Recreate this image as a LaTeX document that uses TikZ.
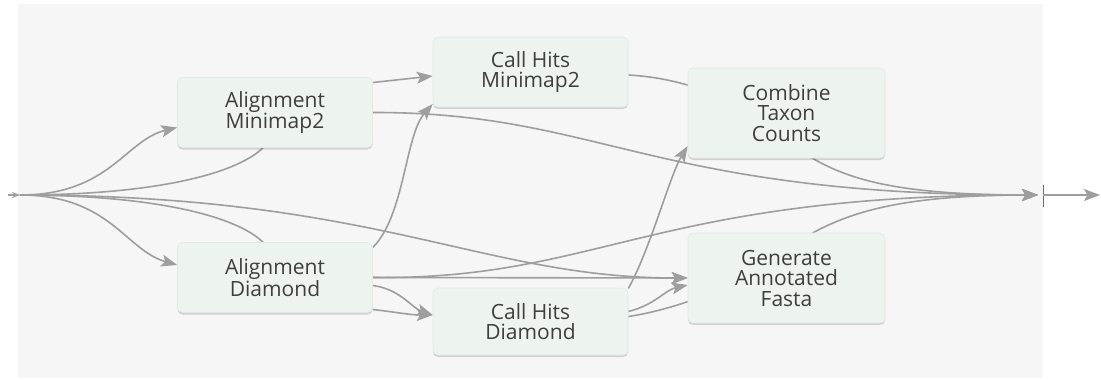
\documentclass[tikz,border=0pt]{standalone}
\usepackage{fontspec}
\setmainfont{Open Sans}
\usetikzlibrary{arrows.meta,shadows,calc}
\definecolor{panel}{HTML}{F6F6F6}
\definecolor{boxfill}{HTML}{EDF4F0}
\definecolor{boxline}{HTML}{E3EAE6}
\definecolor{conncol}{HTML}{9E9E9E}
\definecolor{txt}{HTML}{3E3E3E}
\pgfdeclarelayer{bgpanel}
\pgfdeclarelayer{edges}
\pgfsetlayers{bgpanel,edges,main}
\begin{document}
\begin{tikzpicture}[x=1pt,y=-1pt,
  stepbox/.style={rectangle, rounded corners=5pt, fill=boxfill, draw=boxline,
    line width=0.6pt, align=center, text=txt,
    font=\fontsize{21}{20.5}\selectfont, inner sep=0pt,
    drop shadow={shadow xshift=0pt, shadow yshift=-2pt, opacity=0.15, fill=black}},
  conn/.style={draw=conncol, line width=1.6pt},
  tip/.style={-{Stealth[length=16pt,width=12pt,inset=3.5pt]}}]
\useasboundingbox (0,0) rectangle (1101,380);
\begin{pgfonlayer}{bgpanel}
  \fill[white] (0,0) rectangle (1101,380);
  \fill[panel] (18,4) rectangle (1043,378);
\end{pgfonlayer}

% nodes
\node[stepbox, minimum width=195pt, minimum height=70pt] (am) at (275,112.5) {Alignment\\Minimap2};
\node[stepbox, minimum width=195pt, minimum height=70pt] (ad) at (275,277.5) {Alignment\\Diamond};
\node[stepbox, minimum width=195pt, minimum height=70pt] (chm) at (530.5,72) {Call Hits\\Minimap2};
\node[stepbox, minimum width=195pt, minimum height=67pt] (chd) at (530.5,321.5) {Call Hits\\Diamond};
\node[stepbox, minimum width=197pt, minimum height=90pt] (ctc) at (786.5,113) {Combine\\Taxon\\Counts};
\node[stepbox, minimum width=197pt, minimum height=90pt] (gaf) at (786.5,278) {Generate\\Annotated\\Fasta};

\coordinate (in) at (20,195);
\coordinate (out) at (1038,195);
\coordinate (mark) at (1043,195);
\coordinate (final) at (1100,195);
\coordinate (src) at (8,195);

\begin{pgfonlayer}{edges}
  % input marker
  \draw[conncol, line width=1.2pt, -{Stealth[length=8pt,width=6pt]}] (src) -- (in);
  % from input
  \draw[conn, tip] (in) .. controls (110,195) and (125,140) .. ([yshift=-15pt]am.west);
  \draw[conn, tip] (in) .. controls (110,195) and (125,250) .. ([yshift=12.5pt]ad.west);
  \draw[conn] (in) .. controls (150,195) and (235,175) .. ([xshift=-12pt]am.south);
  \draw[conn] (in) .. controls (150,195) and (235,215) .. ([xshift=-12pt]ad.north);
  \draw[conn, tip] (in) .. controls (380,195) and (480,278) .. (gaf.west);
  % from Alignment Minimap2
  \draw[conn, tip] ([yshift=30pt]am.east) -- ([yshift=-4pt]chm.west);
  \draw[conn, tip] (am.east) .. controls (600,112) and (650,195) .. (out);
  % from Alignment Diamond
  \draw[conn, tip] (ad.east) -- (gaf.west);
  \draw[conn, tip] (ad.east) .. controls (600,280) and (650,195) .. (out);
  \draw[conn, tip] ([yshift=-8pt]ad.east) .. controls (400,289) and (412,308) .. ([yshift=6.5pt]chd.west);
  \draw[conn, tip] ([yshift=-32pt]ad.east) .. controls (395,312) and (410,315) .. ([yshift=6.5pt]chd.west);
  \draw[conn, tip] ([yshift=30pt]ad.east) .. controls (405,215) and (405,135) .. ([yshift=-32pt]chm.west);
  % from Call Hits Minimap2 (behind Combine Taxon Counts)
  \draw[conn, tip] ([yshift=-3pt]chm.east) .. controls (720,80) and (780,130) .. ([xshift=26pt]ctc.south)
        .. controls (850,180) and (900,195) .. (out);
  % from Call Hits Diamond
  \draw[conn, tip] ([yshift=33pt]chd.east) .. controls (650,250) and (670,175) .. ([yshift=-33pt]ctc.west);
  \draw[conn, tip] ([yshift=10pt]chd.east) .. controls (655,305) and (665,290) .. ([yshift=-7pt]gaf.west);
  \draw[conn, tip] ([yshift=5pt]chd.east) .. controls (700,306) and (790,260) .. ([xshift=26.5pt]gaf.north)
        .. controls (850,213) and (900,195) .. (out);
  % output marker
  \draw[conncol!70!black, line width=1pt] (1043,185) -- (1043,207);
  \draw[conncol, line width=1.2pt, tip] (mark) -- (final);
\end{pgfonlayer}
\end{tikzpicture}
\end{document}
